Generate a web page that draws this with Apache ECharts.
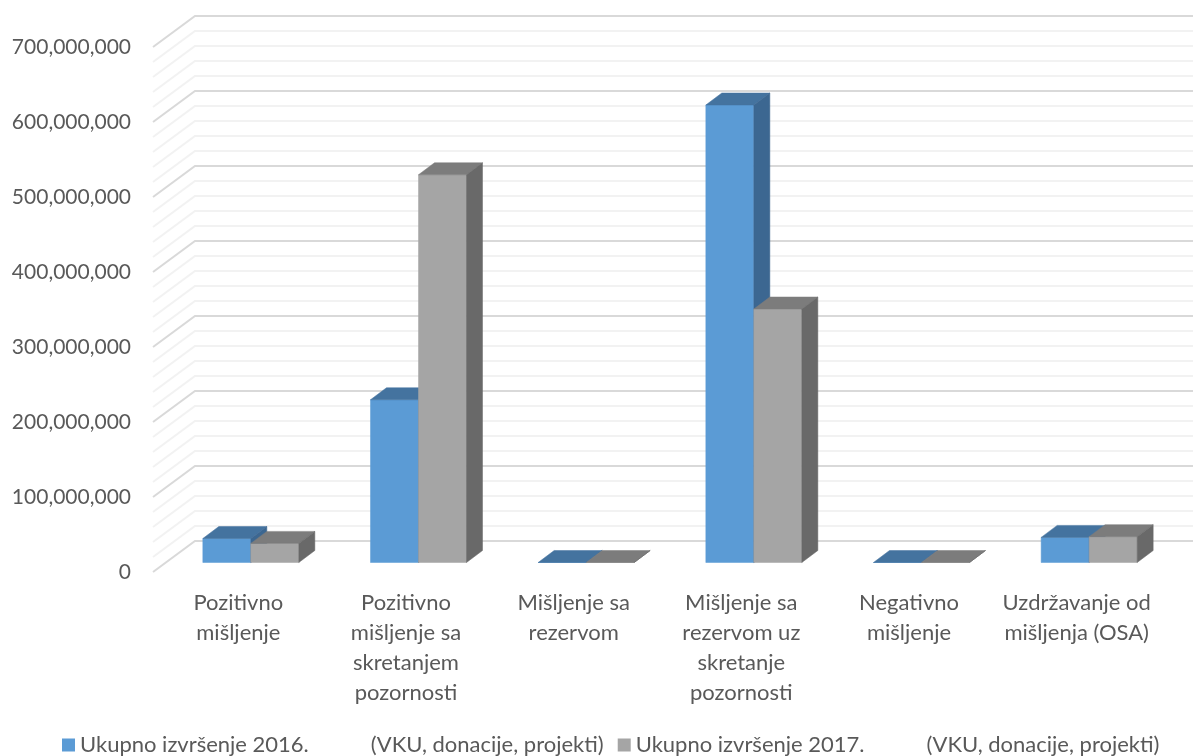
<!DOCTYPE html>
<html><head><meta charset="utf-8">
<script src="https://cdn.jsdelivr.net/npm/echarts@6/dist/echarts.min.js"></script>
<style>html,body{margin:0;padding:0;background:#fff}#c{width:1193px;height:756px}</style>
</head><body><div id="c"></div>
<script>
const categories = ['Pozitivno\nmišljenje','Pozitivno\nmišljenje sa\nskretanjem\npozornosti','Mišljenje sa\nrezervom','Mišljenje sa\nrezervom uz\nskretanje\npozornosti','Negativno\nmišljenje','Uzdržavanje od\nmišljenja (OSA)'];
const values2016 = [32000000,217000000,0,610000000,0,33500000];
const values2017 = [25500000,517000000,0,338000000,0,34500000];
const name2016 = 'Ukupno izvršenje 2016.\u00a0\u00a0\u00a0\u00a0\u00a0\u00a0\u00a0\u00a0\u00a0\u00a0\u00a0(VKU, donacije, projekti)';
const name2017 = 'Ukupno izvršenje 2017.\u00a0\u00a0\u00a0\u00a0\u00a0\u00a0\u00a0\u00a0\u00a0\u00a0\u00a0(VKU, donacije, projekti)';
const gridTicks = [0,20,40,60,80,100,120,140,160,180,200,220,240,260,280,300,320,340,360,380,400,420,440,460,480,500,520,540,560,580,600,620,640,660,680,700].map(v=>v*1000000);

const FONT = 'Lato', TXT = '#595959';
const WALL_DX = 42, WALL_DY = -31, BAR_DX = 14, BAR_DY = -9.5, DEPTH_DX = 16, DEPTH_DY = -12, BAR_W = 0.2863;

function wallItem(params, api){
  const v = api.value(0);
  const p = api.coord([0, v]);
  const x0 = api.coord([0,0])[0] - api.size([1,0])[0]/2;
  const major = v % 100000000 === 0;
  return {type:'polyline', silent:true, shape:{points:[[x0,p[1]],[x0+WALL_DX,p[1]+WALL_DY],[api.getWidth(),p[1]+WALL_DY]]},
    style:{fill:null, stroke: major?'#d9d9d9':'#f2f2f2', lineWidth:2}};
}
function barItem(offset, front, top, side){
  return function(params, api){
    const t = api.coord([api.value(0), api.value(1)]);
    const b = api.coord([api.value(0), 0]);
    const w = api.size([1,0])[0]*BAR_W;
    const l = t[0] + BAR_DX + offset*w, r = l + w;
    const yt = t[1] + BAR_DY, yb = b[1] + BAR_DY;
    const poly = (pts, c) => ({type:'polygon', shape:{points:pts}, style:{fill:c, stroke:c, lineWidth:0.5}});
    return {type:'group', children:[
      poly([[l,yb],[r,yb],[r,yt],[l,yt]], front),
      poly([[l,yt],[r,yt],[r+DEPTH_DX,yt+DEPTH_DY],[l+DEPTH_DX,yt+DEPTH_DY]], top),
      poly([[r,yb],[r+DEPTH_DX,yb+DEPTH_DY],[r+DEPTH_DX,yt+DEPTH_DY],[r,yt]], side)
    ]};
  };
}
const chart = echarts.init(document.getElementById('c'), null, {renderer:'canvas'});
chart.setOption({
  animation:false, backgroundColor:'#fff',
  grid:{left:153, top:47, width:1006, height:525, containLabel:false},
  legend:{data:[name2016,name2017], left:57, top:729, width:1130, itemWidth:13, itemHeight:13, itemGap:14,
    icon:'rect', textStyle:{fontFamily:FONT, fontSize:22, color:TXT}},
  xAxis:{type:'category', data:categories, axisLine:{show:false}, axisTick:{show:false}, splitLine:{show:false},
    axisLabel:{interval:0, margin:16, fontFamily:FONT, fontSize:22, color:TXT, lineHeight:30, padding:[0,0,0,3]}},
  yAxis:{type:'value', min:0, max:700000000, interval:100000000, axisLine:{show:false}, axisTick:{show:false}, splitLine:{show:false},
    axisLabel:{margin:22, fontFamily:FONT, fontSize:21, color:TXT, padding:[2,0,0,0], formatter:v=>v.toLocaleString('en-US')}},
  series:[
    {type:'custom', name:'wall', silent:true, z:1, data:gridTicks.map(v=>[v]), encode:{x:-1,y:0}, renderItem:wallItem, tooltip:{show:false}},
    {type:'custom', name:name2016, z:2, itemStyle:{color:'#5b9bd5'}, data:values2016.map((v,i)=>[i,v]), encode:{x:0,y:1}, renderItem:barItem(-1,'#5b9bd5','#44739f','#3c6791')},
    {type:'custom', name:name2017, z:3, itemStyle:{color:'#a5a5a5'}, data:values2017.map((v,i)=>[i,v]), encode:{x:0,y:1}, renderItem:barItem(0,'#a5a5a5','#7c7c7c','#696969')}
  ]
});
</script></body></html>
